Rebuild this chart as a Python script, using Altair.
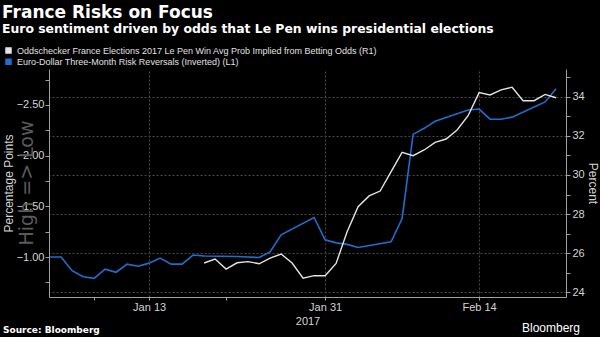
import altair as alt
import pandas as pd

# ---------------- data (x = chart day index: business days to Jan 20, calendar days after) --------
blue_idx = [0, 1, 2, 3, 4, 5, 6, 7, 8, 9, 10, 11, 12, 13, 14,
            17, 18, 19, 20, 21, 24, 25, 26, 27, 28,
            31, 32, 33, 34, 35, 38, 39, 40, 41, 42, 45, 46]
blue_val = [-1.00, -1.00, -0.865, -0.806, -0.79, -0.88, -0.85, -0.93, -0.91, -0.94,
            -0.99, -0.93, -0.93, -1.02, -1.01,
            -1.005, -1.00, -0.995, -1.05, -1.22, -1.39, -1.17, -1.14, -1.125, -1.095,
            -1.15, -1.38, -2.21, -2.27, -2.34, -2.45, -2.46, -2.36, -2.36, -2.38, -2.53, -2.66]

white_idx = list(range(14, 47))
white_val = [25.50, 25.70, 25.19, 25.51, 25.57, 25.46, 25.75, 25.96, 25.50, 24.72,
             24.85, 24.85, 25.48, 27.10, 28.38, 28.93, 29.18, 30.17, 31.16, 30.99,
             31.28, 31.67, 31.84, 32.30, 33.03, 34.21, 34.09, 34.35, 34.49, 33.80,
             33.80, 34.12, 33.95]

x_major = [9, 25, 39]
x_labels = ["Jan 13", "Jan 31", "Feb 14"]
x_minor = [4, 16]

left_major = [-2.5, -2.0, -1.5, -1.0]
left_minor = [-2.75, -2.25, -1.75, -1.25, -0.75]
right_major = [24, 26, 28, 30, 32, 34]
right_minor = [25, 27, 29, 31, 33, 35]

s_white = "Oddschecker France Elections 2017 Le Pen Win Avg Prob Implied from Betting Odds (R1)"
s_blue = "Euro-Dollar Three-Month Risk Reversals (Inverted) (L1)"

title_txt = "France Risks on Focus"
subtitle_txt = "Euro sentiment driven by odds that Le Pen wins presidential elections"
hl_txt = "High => Low"
source_txt = "Source: Bloomberg"
brand_txt = "Bloomberg"

# ---------------- styling ----------------
W, H = 517, 228
FONT = "Liberation Sans"
BOLD = "DejaVu Sans"
LBL = "#d4d4d4"
AX = "#a0a0a0"
GRID = "#4a4a4a"
BLUE = "#1f6fd0"
WHITE = "#e4e4e4"

df_blue = pd.DataFrame({"i": blue_idx, "v": blue_val, "s": s_blue})
df_white = pd.DataFrame({"i": white_idx, "v": white_val, "s": s_white})


def js_list(vals):
    return "[" + ",".join(str(v) for v in vals) + "]"


x_label_expr = " : ".join(
    f"datum.value == {v} ? '{l}'" for v, l in zip(x_major, x_labels)
) + " : ''"
x_major_test = f"indexof({js_list(x_major)}, datum.value) >= 0"

x_enc = alt.X(
    "i:Q",
    scale=alt.Scale(domain=[-0.1, 46.9], nice=False, zero=False),
    axis=alt.Axis(
        values=x_major + x_minor,
        labelExpr=x_label_expr,
        title="2017",
        titleFont=FONT, titleFontSize=11, titleFontWeight="normal", titleColor=LBL,
        titleY=24, titleBaseline="middle",
        grid=True,
        gridColor=GRID, gridDash=[2, 2],
        gridOpacity={"condition": {"test": x_major_test, "value": 1}, "value": 0},
        tickSize=3, labelPadding=1,
    ),
)

color = alt.Color(
    "s:N",
    scale=alt.Scale(domain=[s_white, s_blue], range=[WHITE, BLUE]),
    legend=alt.Legend(
        orient="none", legendX=-45, legendY=-23, title=None,
        symbolType="square", symbolSize=4, symbolStrokeWidth=4.5,
        labelFont=FONT, labelFontSize=9, labelColor="#e0e0e0",
        rowPadding=1.3, labelOffset=4, padding=0, labelLimit=0,
        clipHeight=9,
    ),
)

left_test = f"indexof({js_list(left_major)}, datum.value) >= 0"
blue = alt.Chart(df_blue).mark_line(strokeWidth=1.6).encode(
    x=x_enc,
    y=alt.Y(
        "v:Q",
        scale=alt.Scale(domain=[-2.855, -0.606], reverse=True, nice=False, zero=False),
        axis=alt.Axis(
            orient="left", values=left_major + left_minor,
            labelExpr=f"{left_test} ? format(datum.value, '.2f') : ''",
            grid=False, tickSize=4, labelPadding=1,
            title="Percentage Points", titleFont=FONT, titleFontSize=12,
            titleFontWeight="normal", titleColor=LBL,
            titleX=-41, titleY=H / 2, titleAngle=270,
            titleAlign="center", titleBaseline="middle",
        ),
    ),
    color=color,
)

right_test = f"indexof({js_list(right_major)}, datum.value) >= 0"
white = alt.Chart(df_white).mark_line(strokeWidth=1.4).encode(
    x=x_enc,
    y=alt.Y(
        "v:Q",
        scale=alt.Scale(domain=[23.76, 35.42], nice=False, zero=False),
        axis=alt.Axis(
            orient="right", values=right_major + right_minor,
            labelExpr=f"{right_test} ? format(datum.value, 'd') : ''",
            grid=True, gridColor=GRID, gridDash=[2, 2],
            gridOpacity={"condition": {"test": right_test, "value": 1}, "value": 0},
            tickSize=4, labelPadding=2,
            title="Percent", titleFont=FONT, titleFontSize=12,
            titleFontWeight="normal", titleColor=LBL,
            titleX=26, titleY=H / 2, titleAngle=90,
            titleAlign="center", titleBaseline="middle",
        ),
    ),
    color=color,
)


def label(txt, **kw):
    return alt.Chart(pd.DataFrame({"t": [txt]})).mark_text(**kw).encode(text="t:N")


title = label(title_txt, x=-47, y=-51, align="left", baseline="alphabetic",
              font=BOLD, fontWeight="bold", fontSize=17, color="#ffffff")
subtitle = label(subtitle_txt, x=-47, y=-36, align="left", baseline="alphabetic",
                 font=BOLD, fontWeight="bold", fontSize=12.4, color="#ffffff")
hl = label(hl_txt, x=-22, y=H / 2, align="center", baseline="middle", angle=270,
           font="DejaVu Sans", fontSize=19, color="#5a5a5a")
source = label(source_txt, x=-46, y=264, align="left", baseline="alphabetic",
               font=BOLD, fontWeight="bold", fontSize=9, color="#ffffff")
brand = label(brand_txt, x=531, y=263, align="right", baseline="alphabetic",
              font=FONT, fontSize=12, color="#ffffff")

chart = alt.layer(blue, white, hl, title, subtitle, source, brand).resolve_scale(
    y="independent"
).properties(
    width=W, height=H,
    padding={"left": 49, "top": 69, "right": 34, "bottom": 40},
    autosize=alt.AutoSizeParams(type="none"),
    background="#000000",
).configure_view(stroke=None).configure_axis(
    domainColor=AX, tickColor=AX, labelColor=LBL, labelFont=FONT, labelFontSize=11,
)

chart.save("out.html", embed_options={"renderer": "svg", "actions": False})
